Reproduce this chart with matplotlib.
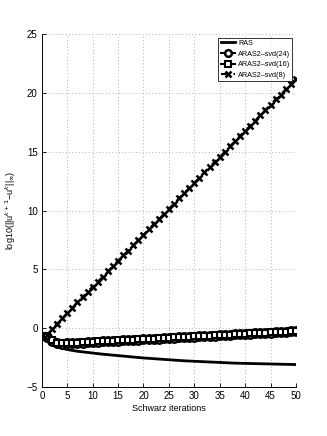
import matplotlib
matplotlib.use("Agg")
import matplotlib.pyplot as plt
from matplotlib import font_manager

fams = {f.name for f in font_manager.fontManager.ttflist}
fam = "Liberation Sans Narrow" if "Liberation Sans Narrow" in fams else "Liberation Sans"
plt.rcParams['font.family'] = [fam, 'DejaVu Sans']

ras = [-0.6, -1.25, -1.55, -1.7, -1.8, -1.88, -1.95, -2.0, -2.05, -2.1, -2.15, -2.2, -2.24, -2.28, -2.32, -2.36, -2.4, -2.44, -2.48, -2.52, -2.55, -2.58, -2.61, -2.64, -2.67,
       -2.7, -2.73, -2.76, -2.78, -2.8, -2.82, -2.84, -2.86, -2.88, -2.9, -2.92, -2.94, -2.96, -2.97, -2.98, -2.99, -3.0, -3.01, -3.02, -3.03, -3.04, -3.05, -3.06, -3.07, -3.08]
svd24 = [-0.7, -1.05, -1.25, -1.3, -1.28, -1.26, -1.23, -1.21, -1.19, -1.16, -1.14, -1.12, -1.1, -1.07, -1.05, -1.03, -1.0, -0.98, -0.96, -0.94, -0.91, -0.89, -0.87, -0.84, -0.82,
         -0.8, -0.78, -0.75, -0.73, -0.71, -0.68, -0.66, -0.64, -0.62, -0.59, -0.57, -0.55, -0.52, -0.5, -0.48, -0.46, -0.43, -0.41, -0.39, -0.36, -0.34, -0.32, -0.3, -0.27, -0.25]
svd16 = [-0.68, -1.03, -1.23, -1.28, -1.26, -1.24, -1.21, -1.19, -1.17, -1.14, -1.12, -1.1, -1.08, -1.05, -1.03, -1.01, -0.98, -0.96, -0.94, -0.92, -0.89, -0.87, -0.85, -0.82, -0.8,
         -0.78, -0.76, -0.73, -0.71, -0.69, -0.66, -0.64, -0.62, -0.6, -0.57, -0.55, -0.53, -0.5, -0.48, -0.46, -0.44, -0.41, -0.39, -0.37, -0.34, -0.32, -0.3, -0.28, -0.25, -0.23]
svd8 = [-0.6, -0.05, 0.4, 0.85, 1.3, 1.75, 2.2, 2.65, 3.1, 3.55, 3.95, 4.4, 4.85, 5.3, 5.75, 6.2, 6.6, 7.05, 7.5, 7.95, 8.4, 8.85, 9.25, 9.7, 10.15,
        10.6, 11.05, 11.5, 11.9, 12.35, 12.8, 13.25, 13.7, 14.15, 14.55, 15.0, 15.45, 15.9, 16.35, 16.8, 17.2, 17.65, 18.1, 18.55, 19.0, 19.45, 19.85, 20.3, 20.75, 21.2]
iters = list(range(1, len(ras) + 1))

labels = ["RAS", "ARAS2\u2013svd(24)", "ARAS2\u2013svd(16)", "ARAS2\u2013svd(8)"]
xticks = list(range(0, 51, 5))
yticks = list(range(-5, 26, 5))

fig = plt.figure(figsize=(3.27, 4.36), dpi=100)
ax = fig.add_axes([0.128, 0.112, 0.777, 0.81])

ax.plot(iters, ras, '-', color='k', lw=2, label=labels[0])
ax.plot(iters, svd24, '-o', color='k', lw=1.5, ms=6, mfc='white', mew=1.8, label=labels[1])
ax.plot(iters, svd16, '-s', color='k', lw=1.5, ms=5, mfc='white', mew=1.5, label=labels[2])
ax.plot(iters, svd8, '--x', color='k', lw=1.5, ms=5, mew=1.8, dashes=(3, 3), label=labels[3])

ax.set_xlim(0, 50)
ax.set_ylim(-5, 25)
ax.set_xticks(xticks)
ax.set_yticks(yticks)
ax.tick_params(direction='in', labelsize=7, length=3, width=0.6, pad=3)
ax.grid(True, linestyle=(0, (1, 3)), color='#999999', lw=0.6)
ax.spines['top'].set_visible(False)
ax.spines['right'].set_visible(False)
for s in ('left', 'bottom'):
    ax.spines[s].set_linewidth(0.7)

ax.set_xlabel("Schwarz iterations", fontsize=6.5, labelpad=2)
ax.set_ylabel("log10(||u$^{k+1}$\u2212u$^{k}$||$_{\\infty}$)", fontsize=6.5, labelpad=6)

leg = ax.legend(loc='upper right', fontsize=5.2, frameon=True, fancybox=False,
                edgecolor='k', borderaxespad=0.5, handlelength=2.0, borderpad=0.3,
                labelspacing=0.5, handletextpad=0.4, markerscale=0.8)
leg.get_frame().set_linewidth(0.7)

fig.savefig("out.png", dpi=100)
